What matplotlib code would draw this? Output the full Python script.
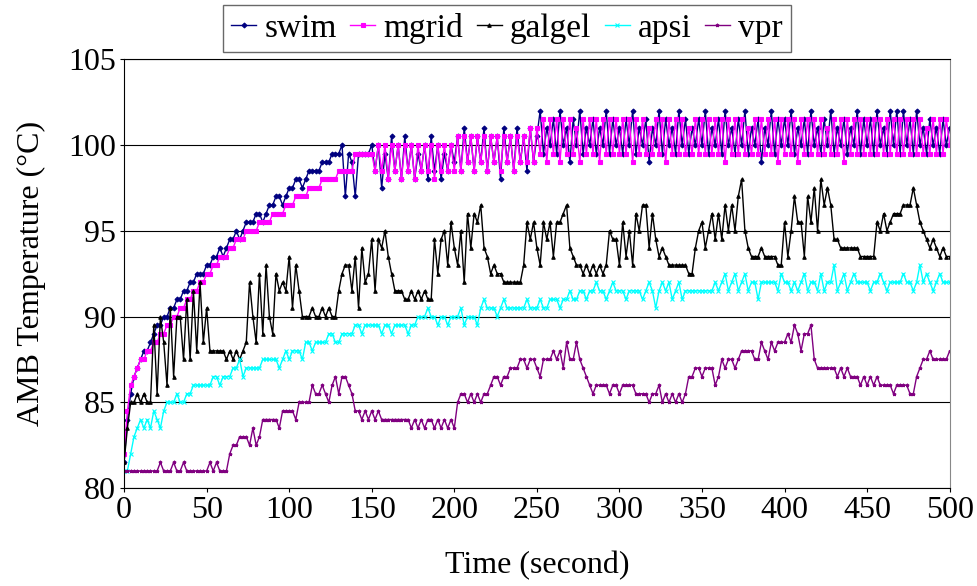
import numpy as np
import matplotlib
matplotlib.use("Agg")
import matplotlib.pyplot as plt

plt.rcParams['font.family'] = ['Liberation Serif', 'DejaVu Serif']

# samples every 2 seconds, t = 0 .. 500
sample_step = 2

swim = [81.5, 84, 85.5, 86.5, 87, 87.5, 88, 88, 88.5, 89, 89.5, 89.5, 90, 90, 90.5, 90.5, 91, 91, 91.5, 91.5, 92, 92, 92.5, 92.5, 92.5,
        93, 93, 93.5, 93.5, 94, 93.5, 94, 94.5, 94.5, 95, 94.5, 95, 95.5, 95.5, 95.5, 96, 96, 95.5, 96, 96.5, 96.5, 97, 97, 96.5, 97,
        97.5, 97.5, 98, 98, 97.5, 98, 98.5, 98.5, 98.5, 98.5, 99, 99, 99, 99.5, 99.5, 99.5, 100, 97, 99.5, 99, 97, 99.5, 99.5, 99.5, 99.5,
        100, 98.5, 100, 97.5, 99.5, 98, 100.5, 98.5, 100, 98, 100.5, 98.5, 100, 98, 99.5, 98.5, 100, 98, 100.5, 98.5, 100, 98, 99.5, 98.5, 100,
        99, 100.5, 98.5, 101, 99, 100.5, 98.5, 100.5, 99, 101, 98.5, 100.5, 99, 100.5, 98, 101, 99, 100.5, 98.5, 101, 99, 100.5, 98.5, 101, 99,
        100.5, 102, 99.5, 101, 100, 101.5, 99.5, 102, 100, 101, 99, 101.5, 100, 102, 99.5, 101, 100, 101.5, 99.5, 101, 100, 102, 99.5, 101.5, 100,
        101, 99.5, 101.5, 100, 102, 99.5, 101, 100, 101.5, 99, 101, 100, 102, 99.5, 101.5, 100, 101, 99.5, 102, 100, 101.5, 99.5, 101, 100, 101.5,
        100, 102, 99.5, 101, 100, 101.5, 99.5, 102, 100, 101, 99.5, 101.5, 100, 102, 99.5, 101, 100, 101.5, 99, 101, 100, 102, 99.5, 101.5, 100,
        101.5, 100, 102, 99.5, 101, 100, 101.5, 99.5, 102, 100, 101, 99.5, 101.5, 100, 102, 99.5, 101, 100, 101.5, 99.5, 101, 100, 102, 99.5, 101.5,
        100, 101.5, 99.5, 102, 100, 101, 99.5, 102, 100, 102, 99.5, 102, 100, 101.5, 99.5, 102, 100, 101, 99.5, 101.5, 100, 101, 99.5, 101.5, 100,
        101]

mgrid = [82, 84.5, 86, 86.5, 87, 87.5, 87.5, 88, 88, 88.5, 88.5, 89, 89, 89.5, 89.5, 90, 90, 90.5, 90.5, 91, 91, 91.5, 91.5, 92, 92,
         92.5, 92.5, 93, 93, 93.5, 93.5, 93.5, 94, 94, 94.5, 94.5, 94.5, 95, 95, 95, 95, 95.5, 95.5, 95.5, 95.5, 96, 96, 96, 96, 96.5,
         96.5, 96.5, 97, 97, 97, 97, 97.5, 97.5, 97.5, 97.5, 98, 98, 98, 98, 98, 98.5, 98.5, 98.5, 98.5, 98.5, 99.5, 99.5, 99.5, 99.5, 99.5,
         99.5, 98.5, 100, 98.5, 100, 98, 100, 98.5, 100, 98, 100, 98.5, 100, 98, 100, 98.5, 100, 98.5, 100, 98, 100, 98.5, 100, 98.5, 100,
         98.5, 100.5, 98.5, 100.5, 99, 100.5, 98.5, 100.5, 99, 100.5, 98.5, 100.5, 99, 100.5, 98.5, 100.5, 99, 100.5, 98.5, 100.5, 99, 100.5, 99, 101, 99,
         101, 99.5, 101.5, 99, 101.5, 99.5, 101.5, 99, 101.5, 99.5, 101.5, 99.5, 101, 99, 101.5, 99.5, 101.5, 99.5, 101.5, 99, 101.5, 99.5, 101.5, 99.5, 101.5,
         99.5, 101.5, 99.5, 101.5, 99, 101.5, 99.5, 101.5, 99.5, 101, 99.5, 101.5, 99.5, 101.5, 99, 101.5, 99.5, 101.5, 99.5, 101.5, 99.5, 101, 99.5, 101.5, 99.5,
         101.5, 99.5, 101.5, 99.5, 101.5, 99.5, 101.5, 99, 101.5, 99.5, 101.5, 99.5, 101.5, 99.5, 101, 99.5, 101.5, 99.5, 101.5, 99.5, 101.5, 99.5, 101.5, 99, 101.5,
         99.5, 101.5, 99.5, 101.5, 99, 101.5, 99.5, 101.5, 99.5, 101.5, 99.5, 101.5, 99.5, 101, 99.5, 101.5, 99.5, 101.5, 99, 101.5, 99.5, 101.5, 99.5, 101.5, 99.5,
         101.5, 99.5, 101.5, 99.5, 101.5, 99.5, 101.5, 99.5, 101.5, 99.5, 101.5, 99.5, 101.5, 99.5, 101.5, 99.5, 101.5, 99.5, 101, 99.5, 101.5, 99.5, 101.5, 99.5, 101.5,
         100]

galgel = [81.5, 83.5, 85, 85, 85.5, 85, 85.5, 85, 85, 89.5, 85.5, 90, 88.5, 86, 90.5, 86.5, 90, 90, 87.5, 91, 87.5, 91.5, 88, 92, 88.5,
          90.5, 88, 88, 88, 88, 88, 87.5, 88, 87.5, 88, 87.5, 88, 88.5, 92, 90, 88.5, 92.5, 89, 93, 90, 89, 92.5, 91.5, 92, 91.5,
          93.5, 90.5, 93, 91.5, 90, 90, 90, 90.5, 90, 90, 90.5, 90, 90.5, 90, 90, 91.5, 92.5, 93, 93, 91.5, 93.5, 90.5, 94, 92, 92.5,
          94.5, 91.5, 94.5, 94, 95, 93.5, 92.5, 91.5, 91.5, 91.5, 91, 91, 91.5, 91, 91.5, 91, 91.5, 91, 91, 94.5, 92.5, 94.5, 95, 93, 95.5,
          94, 93, 95, 92, 96, 94, 96, 95.5, 96.5, 94, 93.5, 92.5, 93, 92.5, 92.5, 92, 92, 92, 92, 92, 92, 93, 95.5, 94.5, 95.5,
          94, 93, 95.5, 94.5, 95.5, 93.5, 95.5, 95.5, 96, 96.5, 94, 93.5, 93, 93, 92.5, 93, 92.5, 93, 92.5, 93, 92.5, 93, 95, 94.5, 94.5,
          93, 95.5, 93.5, 95, 93, 96, 95, 96.5, 96.5, 94, 96, 94.5, 93.5, 94, 93.5, 93, 93, 93, 93, 93, 93, 92.5, 92.5, 94, 95,
          95.5, 94, 95, 96, 94.5, 96, 94.5, 96.5, 95, 96.5, 95, 97, 98, 95, 94, 93.5, 93.5, 93.5, 94, 93.5, 93.5, 93.5, 93.5, 93, 93,
          95.5, 93.5, 95, 97, 95.5, 95.5, 93.5, 97, 95.5, 97.5, 95, 98, 96.5, 97.5, 96.5, 94.5, 94.5, 94, 94, 94, 94, 94, 94, 93.5, 93.5,
          93.5, 93.5, 93.5, 95.5, 95, 96, 95, 95.5, 96, 96, 96, 96.5, 96.5, 96.5, 97.5, 96.5, 95.5, 95, 94.5, 94, 94.5, 94, 93.5, 94, 93.5,
          93.5]

apsi = [81, 81, 82, 83, 83.5, 84, 83.5, 84, 83.5, 84.5, 84, 83.5, 84.5, 85, 85, 85, 85.5, 85, 85, 85.5, 85.5, 86, 86, 86, 86,
        86, 86, 86.5, 86.5, 86, 86.5, 86.5, 86.5, 87, 87, 87.5, 86.5, 87, 87, 87, 87, 87, 87.5, 87.5, 87.5, 87.5, 87.5, 87, 87.5, 88,
        87.5, 88, 88, 88, 87.5, 88.5, 88.5, 88, 88.5, 88.5, 88.5, 88.5, 89, 89, 88.5, 88.5, 89, 89, 89, 89, 89.5, 89.5, 89, 89.5, 89.5,
        89.5, 89.5, 89.5, 89, 89.5, 89.5, 89, 89.5, 89.5, 89.5, 89.5, 89, 89.5, 89.5, 90, 90, 90, 90.5, 90, 90, 89.5, 90, 90, 89.5, 90,
        90, 90, 90.5, 89.5, 90, 90, 90, 89.5, 90.5, 91, 90.5, 90.5, 90.5, 90, 90.5, 91, 90.5, 90.5, 90.5, 90.5, 90.5, 90.5, 91, 90.5, 90.5,
        90.5, 91, 90.5, 90.5, 91, 91, 91, 90.5, 91, 91, 91.5, 91, 91, 91.5, 91.5, 91, 91.5, 91.5, 92, 91.5, 91.5, 91, 91.5, 92, 91.5,
        91.5, 91.5, 91, 91.5, 91.5, 91.5, 91.5, 91, 91.5, 92, 91.5, 90.5, 91.5, 92, 91.5, 92, 91, 91.5, 92, 91, 91.5, 91.5, 91.5, 91.5, 91.5,
        91.5, 91.5, 91.5, 91.5, 92, 91.5, 92, 92.5, 91.5, 92, 92.5, 91.5, 92, 92.5, 91.5, 92, 92, 91, 92, 92, 92, 92, 92, 91.5, 92.5,
        92, 92, 91.5, 92, 91.5, 92, 92.5, 91.5, 92, 92, 91.5, 92.5, 91.5, 92, 92, 93, 91.5, 92, 92.5, 91.5, 92, 92.5, 92, 92, 92,
        92, 91.5, 92, 92, 92.5, 92, 91.5, 92, 92, 92, 92, 92.5, 92, 92, 91.5, 92, 93, 92, 92.5, 92, 91.5, 92, 92.5, 92, 92,
        92]

vpr = [81, 81, 81, 81, 81, 81, 81, 81, 81, 81, 81, 81.5, 81, 81, 81, 81.5, 81, 81, 81.5, 81, 81, 81, 81, 81, 81,
       81, 81.5, 81, 81.5, 81, 81, 81, 82, 82.5, 82.5, 83, 83, 83, 82.5, 83.5, 82.5, 83, 84, 84, 84, 84, 84, 83.5, 84.5, 84.5,
       84.5, 84.5, 84, 85, 85, 85, 85, 86, 85.5, 85.5, 86, 85.5, 85, 86, 86.5, 85.5, 86.5, 86.5, 86, 85.5, 84.5, 84.5, 84, 84.5, 84,
       84.5, 84, 84.5, 84, 84, 84, 84, 84, 84, 84, 84, 84, 83.5, 84, 83.5, 84, 83.5, 84, 84, 83.5, 84, 83.5, 84, 83.5, 84,
       83.5, 85, 85.5, 85.5, 85, 85.5, 85, 85.5, 85, 85.5, 85.5, 86, 86.5, 86.5, 86, 86.5, 86.5, 87, 87, 87, 87.5, 87.5, 87, 87.5, 87.5,
       87, 86.5, 87.5, 87.5, 87.5, 88, 87.5, 88, 87, 88.5, 87.5, 87.5, 88.5, 87.5, 87, 86.5, 86, 85.5, 86, 86, 86, 86, 85.5, 86, 86,
       85.5, 86, 86, 86, 86, 85.5, 85.5, 85.5, 85.5, 85, 85.5, 85.5, 86, 85, 85.5, 85, 85.5, 85, 85.5, 85, 85.5, 86.5, 86.5, 87, 87,
       86.5, 87, 87, 87, 86, 86.5, 87.5, 87, 87.5, 87.5, 87, 87.5, 88, 88, 88, 88, 87.5, 87.5, 88.5, 88, 87.5, 88.5, 88, 88.5, 88.5,
       88.5, 89, 88.5, 89.5, 89, 88, 89, 89, 89.5, 87.5, 87, 87, 87, 87, 87, 87, 86.5, 87, 86.5, 87, 86.5, 86.5, 86.5, 86, 86.5,
       86, 86.5, 86, 86.5, 86, 86, 86, 86, 85.5, 86, 86, 86, 86, 85.5, 85.5, 86.5, 87, 87.5, 87.5, 88, 87.5, 87.5, 87.5, 87.5, 87.5,
       88]

series = [
    ('swim', swim, '#000080', 'D'),
    ('mgrid', mgrid, '#FF00FF', 's'),
    ('galgel', galgel, '#000000', '^'),
    ('apsi', apsi, '#00FFFF', 'x'),
    ('vpr', vpr, '#800080', '*'),
]

fig = plt.figure(figsize=(9.77, 5.86), dpi=100)
ax = fig.add_axes([0.127, 0.167, 0.845, 0.732])

for name, vals, color, marker in series:
    t = np.arange(len(vals)) * sample_step
    ax.plot(t, vals, color=color, lw=1.0, marker=marker, ms=2.5,
            mew=0.8, label=name)

ax.set_xlim(0, 500)
ax.set_ylim(80, 105)
ax.set_xticks(range(0, 501, 50))
ax.set_yticks(range(80, 106, 5))
ax.yaxis.grid(True, color='black', lw=0.8)
ax.set_axisbelow(True)
ax.tick_params(labelsize=23, length=3, direction='out', pad=3)
for side in ['left', 'bottom', 'top']:
    ax.spines[side].set_color('black')
ax.spines['right'].set_color('#888888')

ax.set_xlabel('Time (second)', fontsize=23, labelpad=18)
ax.set_ylabel('AMB Temperature (°C)', fontsize=23, labelpad=16)

leg = ax.legend(loc='upper center', bbox_to_anchor=(0.519, 0.992),
                bbox_transform=fig.transFigure, ncol=5, fontsize=24,
                frameon=True, fancybox=False, edgecolor='#444444',
                handlelength=0.75, handletextpad=0.25, columnspacing=0.4,
                borderpad=0.25, borderaxespad=0, markerscale=1.0)
leg.get_frame().set_linewidth(1.0)

fig.savefig('out.png', dpi=100)
